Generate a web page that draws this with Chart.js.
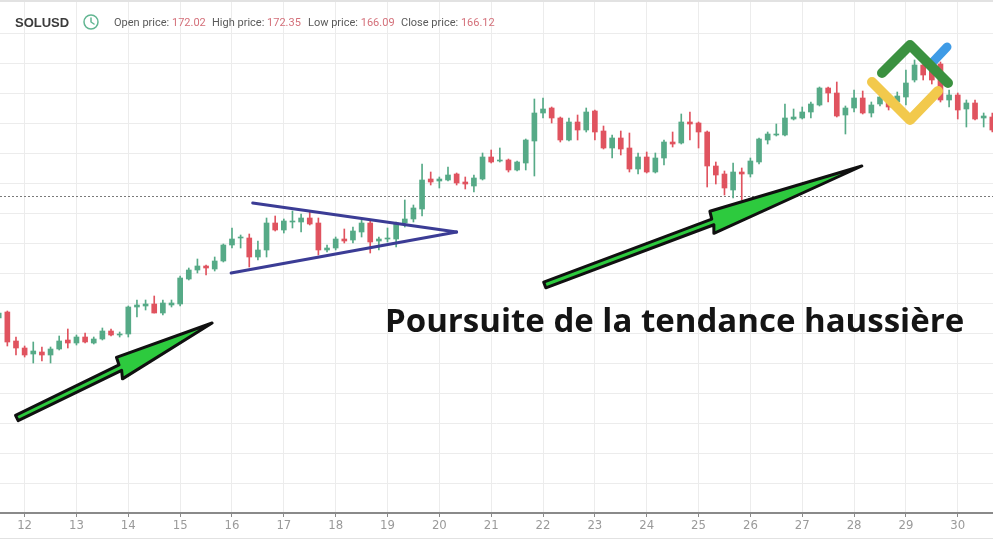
<!DOCTYPE html>
<html>
<head>
<meta charset="utf-8">
<title>SOLUSD</title>
<script src="https://cdn.jsdelivr.net/npm/chart.js@4.4.0/dist/chart.umd.min.js"></script>
<style>
  html, body { margin: 0; padding: 0; background: #fff; }
  #wrap { width: 993px; height: 542px; }
</style>
</head>
<body>
<div id="wrap"><canvas id="chart" width="993" height="542"></canvas></div>
<script>
// 4h candles, six per day; day labels sit on every 6th candle
const dayLabels = ['12', '13', '14', '15', '16', '17', '18', '19', '20', '21', '22', '23', '24', '25', '26', '27', '28', '29', '30'];
const firstDayCandle = 3;
const candlesPerDay = 6;

const opens = [
  148.5, 149.1, 146.2, 145.5, 144.9, 145.1, 144.8, 145.4, 146.3, 146.0,
  146.6, 146.0, 146.4, 147.2, 146.8, 146.9, 149.6, 149.7, 149.9, 149.0,
  149.8, 149.9, 152.4, 153.3, 153.7, 153.4, 154.2, 155.8, 156.5, 156.5,
  154.6, 155.3, 158.0, 157.3, 158.1, 158.1, 158.5, 158.0, 155.3, 155.5,
  156.4, 156.3, 157.1, 158.0, 156.2, 156.4, 156.4, 158.0, 158.4, 159.4,
  162.4, 162.2, 162.3, 162.9, 162.1, 161.7, 162.4, 164.6, 164.2, 164.3,
  163.3, 164.0, 166.2, 169.0, 169.5, 168.5, 166.3, 168.1, 167.3, 169.2,
  167.2, 165.5, 166.5, 165.5, 163.4, 164.6, 163.1, 164.5, 166.1, 166.0,
  168.1, 168.0, 167.1, 163.7, 162.9, 161.3, 163.1, 162.9, 164.1, 166.3,
  166.8, 166.8, 168.4, 168.5, 169.1, 169.8, 171.5, 171.0, 168.8, 169.5,
  170.5, 169.0, 169.9, 170.1, 170.1, 170.6, 172.3, 173.8, 173.5, 173.9,
  170.3, 170.8, 169.4, 170.0, 168.5, 168.6
];
const highs = [
  149.1, 149.2, 146.6, 145.7, 146.1, 145.6, 145.6, 146.7, 147.4, 146.8,
  147.0, 146.6, 147.5, 147.4, 147.1, 149.7, 150.3, 150.3, 150.7, 150.3,
  150.3, 152.7, 153.5, 154.4, 153.8, 154.6, 155.9, 157.5, 156.8, 156.9,
  156.2, 158.5, 158.7, 158.4, 159.2, 158.9, 159.1, 158.5, 155.8, 156.6,
  157.4, 157.6, 158.3, 158.3, 156.6, 157.5, 158.1, 160.3, 159.8, 163.9,
  163.1, 162.6, 163.6, 163.0, 162.6, 162.8, 165.0, 165.3, 165.5, 164.4,
  164.2, 166.4, 170.4, 170.5, 169.6, 168.6, 168.5, 168.8, 169.5, 169.3,
  167.7, 166.8, 167.2, 167.0, 165.0, 165.1, 165.0, 166.3, 167.1, 168.9,
  169.1, 168.1, 167.2, 164.1, 163.2, 164.0, 163.5, 164.5, 166.5, 167.1,
  167.9, 169.9, 169.4, 169.6, 170.1, 171.6, 171.6, 172.1, 169.7, 171.3,
  171.2, 170.1, 170.9, 170.5, 171.1, 173.3, 174.3, 174.1, 173.9, 174.1,
  171.3, 171.0, 170.3, 170.3, 169.0, 169.0
];
const lows = [
  148.4, 145.7, 144.8, 144.6, 144.0, 144.2, 144.0, 145.3, 145.5, 145.8,
  146.0, 145.9, 146.3, 146.7, 146.6, 146.6, 148.6, 149.3, 149.0, 148.8,
  149.6, 149.7, 152.3, 153.0, 152.8, 153.2, 154.1, 155.5, 155.5, 153.6,
  154.3, 154.6, 157.2, 157.0, 157.5, 157.1, 157.8, 154.8, 155.1, 155.3,
  156.0, 156.0, 156.6, 155.0, 155.3, 156.1, 155.6, 157.6, 158.1, 158.7,
  161.8, 161.5, 162.2, 161.8, 161.4, 161.1, 162.3, 164.0, 164.1, 163.1,
  163.2, 163.3, 162.7, 168.5, 168.0, 166.1, 166.2, 166.3, 167.1, 166.3,
  165.4, 164.5, 164.8, 163.1, 162.9, 163.0, 163.0, 163.8, 165.6, 165.9,
  166.3, 165.5, 161.6, 161.9, 160.8, 160.5, 160.3, 162.6, 163.9, 165.9,
  166.7, 166.7, 168.3, 168.4, 168.5, 169.7, 170.1, 168.6, 166.9, 169.1,
  168.9, 168.6, 169.7, 169.3, 169.9, 169.8, 172.1, 172.3, 171.9, 170.1,
  169.6, 168.4, 167.6, 168.3, 167.6, 167.1
];
const closes = [
  149.0, 146.1, 145.5, 144.8, 145.2, 144.8, 145.4, 146.2, 146.0, 146.6,
  146.1, 146.4, 147.2, 146.8, 146.9, 149.6, 149.8, 149.9, 149.0, 150.0,
  150.0, 152.5, 153.3, 153.7, 153.5, 154.2, 155.8, 156.4, 156.6, 154.6,
  155.3, 158.0, 157.3, 158.2, 158.2, 158.5, 157.9, 155.3, 155.5, 156.4,
  156.2, 157.2, 158.0, 156.1, 156.4, 156.5, 158.0, 158.4, 159.5, 162.3,
  162.1, 162.4, 162.8, 162.0, 161.9, 162.5, 164.6, 164.1, 164.3, 163.3,
  164.1, 166.3, 169.0, 169.4, 168.5, 166.3, 168.1, 167.3, 169.1, 167.1,
  165.5, 166.5, 165.4, 163.4, 164.6, 163.1, 164.5, 166.1, 165.9, 168.1,
  167.9, 167.1, 163.7, 162.8, 161.5, 163.1, 162.9, 164.2, 166.4, 166.9,
  166.9, 168.5, 168.6, 169.1, 169.9, 171.5, 171.0, 168.7, 169.5, 170.5,
  169.0, 169.8, 170.6, 169.6, 170.7, 172.0, 173.8, 172.8, 172.3, 170.3,
  170.8, 169.3, 170.0, 168.4, 168.7, 167.3
];

// dotted reference price line
const markerPrice = 160.7;

// drawings on the chart, as [candle index, price]
const triangleTop = [[29.4, 160.0], [53.0, 157.1]];
const triangleBottom = [[26.9, 153.0], [53.0, 157.1]];
const arrowLeft = [[2.1, 138.5], [24.7, 148.0]];
const arrowRight = [[63.2, 151.8], [99.9, 163.7]];
const noteText = 'Poursuite de la tendance haussière';

const header = [
  ['Open price:', '172.02', 114],
  ['High price:', '172.35', 212],
  ['Low price:', '166.09', 308],
  ['Close price:', '166.12', 401]
];

const UP = '#56aa87';
const DOWN = '#e0535f';

const colors = opens.map((o, i) => (closes[i] >= o ? UP : DOWN));
const wicks = opens.map((o, i) => ({ x: i, y: [lows[i], highs[i]] }));
const bodies = opens.map((o, i) => ({ x: i, y: [o, closes[i]] }));

function drawArrow(ctx, x1, y1, x2, y2) {
  const len = Math.hypot(x2 - x1, y2 - y1);
  const ux = (x2 - x1) / len;
  const uy = (y2 - y1) / len;
  const nx = -uy;
  const ny = ux;
  const shaft = 3;
  const head = 11;
  const bx = x2 - ux * len * 0.47;
  const by = y2 - uy * len * 0.47;
  const pts = [
    [x1 + nx * shaft, y1 + ny * shaft],
    [bx + nx * shaft, by + ny * shaft],
    [bx + nx * head - ux * 3, by + ny * head - uy * 3],
    [x2, y2],
    [bx - nx * head + ux * 1, by - ny * head + uy * 1],
    [bx - nx * shaft, by - ny * shaft],
    [x1 - nx * shaft, y1 - ny * shaft]
  ];
  ctx.beginPath();
  pts.forEach((p, k) => (k ? ctx.lineTo(p[0], p[1]) : ctx.moveTo(p[0], p[1])));
  ctx.closePath();
  ctx.fillStyle = '#2dca3e';
  ctx.fill();
  ctx.lineWidth = 3;
  ctx.lineJoin = 'round';
  ctx.strokeStyle = '#101010';
  ctx.stroke();
}

function drawLogo(ctx) {
  ctx.save();
  ctx.lineCap = 'round';
  ctx.lineJoin = 'round';
  ctx.lineWidth = 9;
  ctx.strokeStyle = '#3f9be6';
  ctx.beginPath(); ctx.moveTo(931, 64); ctx.lineTo(947, 47); ctx.stroke();
  ctx.lineWidth = 10;
  ctx.strokeStyle = '#f2c94c';
  ctx.beginPath(); ctx.moveTo(872, 82); ctx.lineTo(910, 120); ctx.lineTo(938, 91); ctx.stroke();
  ctx.strokeStyle = '#3b9140';
  ctx.beginPath(); ctx.moveTo(882, 73); ctx.lineTo(910, 45); ctx.lineTo(948, 83); ctx.stroke();
  ctx.restore();
}

const overlay = {
  id: 'overlay',
  beforeDatasetsDraw(chart) {
    const { ctx, chartArea, scales } = chart;
    const py = Math.round(scales.y.getPixelForValue(markerPrice)) + 0.5;
    ctx.save();
    ctx.strokeStyle = '#7a7a7a';
    ctx.lineWidth = 1;
    ctx.setLineDash([2, 2]);
    ctx.beginPath();
    ctx.moveTo(chartArea.left, py);
    ctx.lineTo(chartArea.right, py);
    ctx.stroke();
    ctx.restore();
  },
  afterDraw(chart) {
    const { ctx, scales } = chart;
    const px = p => [scales.x.getPixelForValue(p[0]), scales.y.getPixelForValue(p[1])];
    ctx.save();

    // triangle
    ctx.strokeStyle = '#3b3c95';
    ctx.lineWidth = 3;
    ctx.lineCap = 'round';
    [triangleTop, triangleBottom].forEach(seg => {
      const a = px(seg[0]);
      const b = px(seg[1]);
      ctx.beginPath(); ctx.moveTo(a[0], a[1]); ctx.lineTo(b[0], b[1]); ctx.stroke();
    });

    // arrows
    [arrowLeft, arrowRight].forEach(seg => {
      const a = px(seg[0]);
      const b = px(seg[1]);
      drawArrow(ctx, a[0], a[1], b[0], b[1]);
    });

    // caption
    ctx.fillStyle = '#141414';
    ctx.font = 'bold 33px "Open Sans", sans-serif';
    ctx.textBaseline = 'alphabetic';
    ctx.textAlign = 'left';
    ctx.fillText(noteText, 385, 332);

    drawLogo(ctx);

    // header strip
    ctx.fillStyle = '#e2e2e2';
    ctx.fillRect(0, 0, 993, 2);
    ctx.fillRect(0, 538, 993, 1);
    ctx.fillStyle = '#3b3b3b';
    ctx.font = 'bold 13px "Liberation Sans", Arial, sans-serif';
    ctx.textBaseline = 'middle';
    ctx.fillText('SOLUSD', 15, 23);

    ctx.strokeStyle = '#62b692';
    ctx.lineWidth = 1.5;
    ctx.beginPath(); ctx.arc(91, 22, 7, 0, Math.PI * 2); ctx.stroke();
    ctx.beginPath(); ctx.moveTo(91, 18); ctx.lineTo(91, 22); ctx.lineTo(94, 24); ctx.stroke();

    ctx.font = '11px Roboto, sans-serif';
    header.forEach(([label, value, x]) => {
      ctx.fillStyle = '#5a5a5a';
      ctx.fillText(label, x, 23);
      const w = ctx.measureText(label + ' ').width;
      ctx.fillStyle = '#d4707a';
      ctx.fillText(value, x + w, 23);
    });
    ctx.restore();
  }
};

new Chart(document.getElementById('chart'), {
  type: 'bar',
  data: {
    datasets: [
      {
        data: wicks,
        backgroundColor: colors,
        barThickness: 1,
        grouped: false,
        order: 2
      },
      {
        data: bodies,
        backgroundColor: colors,
        barThickness: 5,
        minBarLength: 1,
        grouped: false,
        order: 1
      }
    ]
  },
  options: {
    responsive: false,
    animation: false,
    layout: { padding: 0 },
    plugins: {
      legend: { display: false },
      tooltip: { enabled: false }
    },
    scales: {
      x: {
        type: 'linear',
        min: 0.15,
        max: 115.08,
        offset: false,
        grid: {
          offset: false,
          color: '#ececec',
          tickColor: '#8a8a8a',
          tickLength: 4
        },
        border: { color: '#8a8a8a', width: 2 },
        afterBuildTicks: scale => {
          scale.ticks = dayLabels.map((d, k) => ({ value: firstDayCandle + k * candlesPerDay }));
        },
        ticks: {
          autoSkip: false,
          maxRotation: 0,
          padding: 1,
          color: '#9a9a9a',
          font: { family: '"Liberation Sans Narrow", "DejaVu Sans Condensed", sans-serif', size: 13 },
          callback: v => dayLabels[Math.round((v - firstDayCandle) / candlesPerDay)]
        },
        afterFit: scale => { scale.height = 29; }
      },
      y: {
        min: 129,
        max: 180.3,
        grid: { color: '#ececec', drawTicks: false },
        border: { display: false },
        ticks: { display: false, stepSize: 3 },
        afterBuildTicks: scale => {
          scale.ticks = scale.ticks.filter(t => Math.abs(t.value / 3 - Math.round(t.value / 3)) < 1e-6);
        },
        afterFit: scale => { scale.width = 0; }
      }
    }
  },
  plugins: [overlay]
});
</script>
</body>
</html>
